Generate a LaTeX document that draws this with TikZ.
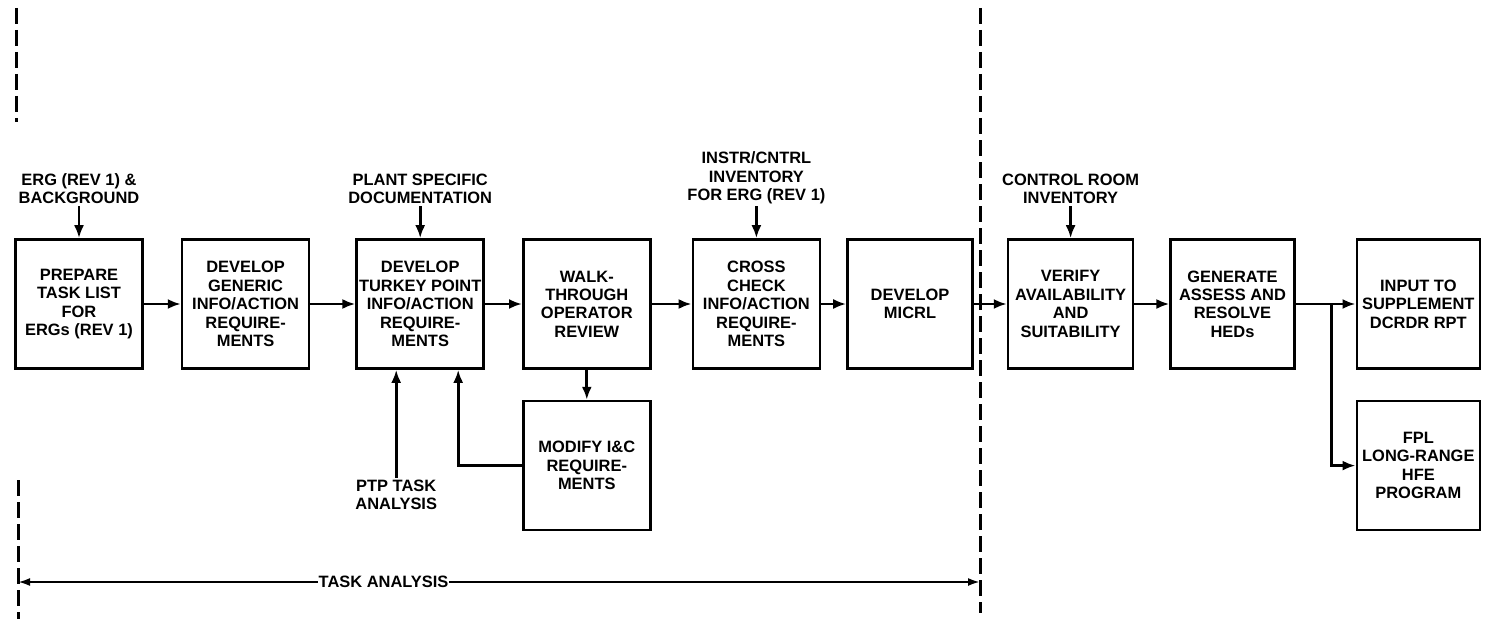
\documentclass[tikz,border=0pt]{standalone}
\usepackage{fontspec}
\setmainfont{Liberation Sans}
\usetikzlibrary{positioning,arrows.meta,calc}

\newcommand{\boxfont}{\bfseries\fontsize{16.5}{18.5}\selectfont}
\tikzset{
  block/.style={draw, line width=2.6bp, minimum width=127bp, minimum height=129bp,
    align=center, inner sep=2bp, font=\boxfont},
  feed/.style={align=center, inner sep=2bp, font=\boxfont},
  flow/.style={line width=2.8bp, -{Latex[length=13bp,width=10bp]}},
  fence/.style={line width=3bp, dash pattern=on 16bp off 6bp},
}

\begin{document}
\begin{tikzpicture}[x=1bp,y=-1bp,node distance=36bp]
  \useasboundingbox (0,0) rectangle (1490,619);
  % phase borders
  \draw[fence] (16,8) -- (16,122);
  \draw[fence] (18,480) -- (18,619);
  \draw[fence] (980,8) -- (980,613);
  % upper row
  \node[block] (prep) at (79,304) {PREPARE\\TASK LIST\\FOR\\ERGs (REV 1)};
  \node[block] (gen) [right = 37bp of prep] {DEVELOP\\GENERIC\\INFO/ACTION\\REQUIRE-\\MENTS};
  \node[block] (tp) [right = 45bp of gen] {DEVELOP\\TURKEY POINT\\INFO/ACTION\\REQUIRE-\\MENTS};
  \node[block] (walk) [right = 37bp of tp] {WALK-\\THROUGH\\OPERATOR\\REVIEW};
  \node[block] (cross) [right = 40bp of walk] {CROSS\\CHECK\\INFO/ACTION\\REQUIRE-\\MENTS};
  \node[block, minimum width=125bp] (micrl) [right = 25bp of cross] {DEVELOP\\MICRL};
  \node[block, minimum width=125bp] (verify) [right = 33bp of micrl] {VERIFY\\AVAILABILITY\\AND\\SUITABILITY};
  \node[block, minimum width=123.5bp] (hed) [right = 35bp of verify] {GENERATE\\ASSESS AND\\RESOLVE\\HEDs};
  \node[block, minimum width=123bp] (supp) [right = 60bp of hed] {INPUT TO\\SUPPLEMENT\\DCRDR RPT};
  % lower row
  \node[block] (mod) [below = 30bp of walk] {MODIFY I\&C\\REQUIRE-\\MENTS};
  \node[block, minimum width=123bp] (fpl) [below = 30bp of supp] {FPL\\LONG-RANGE\\HFE\\PROGRAM};
  % inputs
  \node[feed] (erg) [above = 32bp of prep] {ERG (REV 1) \&\\BACKGROUND};
  \node[feed] (plant) [above = 32bp of tp] {PLANT SPECIFIC\\DOCUMENTATION};
  \node[feed] (instr) [above = 32bp of cross] {INSTR/CNTRL\\INVENTORY\\FOR ERG (REV 1)};
  \node[feed] (room) [above = 32bp of verify] {CONTROL ROOM\\INVENTORY};
  \node[feed] (ptp) [below = 108bp of tp, xshift=-24bp] {PTP TASK\\ANALYSIS};
  % flow
  \path (prep) edge[flow] (gen);
  \path (gen) edge[flow] (tp);
  \path (tp) edge[flow] (walk);
  \path (walk) edge[flow] (cross);
  \path (cross) edge[flow] (micrl);
  \path (micrl) edge[flow] (verify);
  \path (verify) edge[flow] (hed);
  \path (hed) edge[flow] (supp);
  \path (erg) edge[flow] (prep);
  \path (plant) edge[flow] (tp);
  \path (instr) edge[flow] (cross);
  \path (room) edge[flow] (verify);
  \path (walk) edge[flow] (mod);
  \draw[flow] (ptp) -- (ptp |- tp.south);
  \draw[flow] (mod.west) -| ($(tp.south)+(38bp,0)$);
  \coordinate (split) at ($(hed.east)!0.6!(supp.west)$);
  \draw[flow] (split) |- (fpl.west);
  % span of the task analysis
  \coordinate (taL) at (18,582);
  \coordinate (taR) at (980,582);
  \draw[line width=2.2bp, {Latex[length=12bp,width=8bp]}-{Latex[length=12bp,width=8bp]}]
    (taL) -- node[fill=white, inner sep=1bp, font=\boxfont, pos=0.38] {TASK ANALYSIS} (taR);
\end{tikzpicture}
\end{document}
